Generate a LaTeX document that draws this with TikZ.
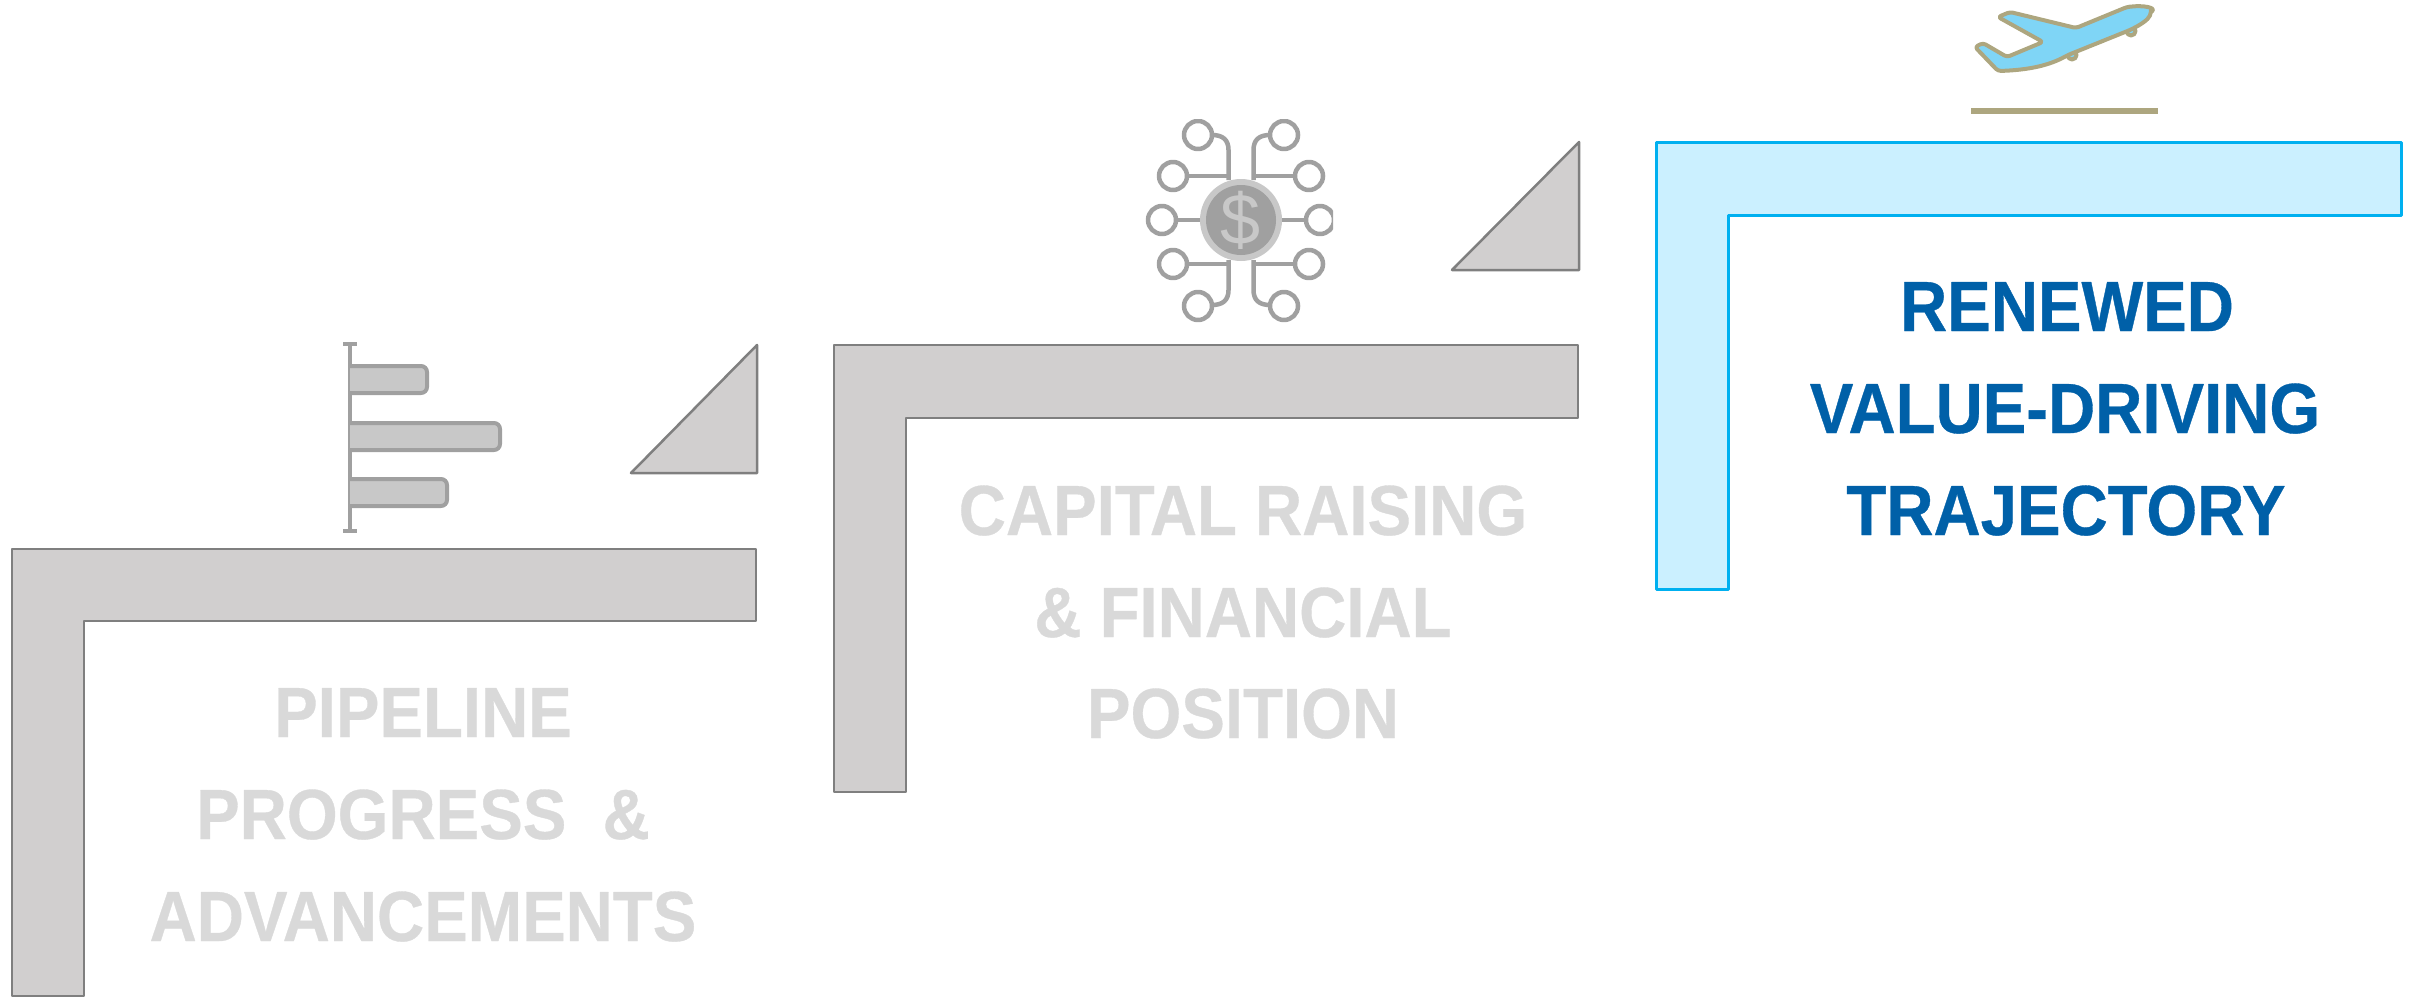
\documentclass[tikz,border=0pt]{standalone}
\usepackage{fontspec}
\setmainfont[FakeStretch=0.92,BoldFeatures={FakeStretch=0.92,FakeBold=0.5}]{Liberation Sans}
\newfontfamily\dollarfont{Liberation Sans}
\definecolor{stepgrey}{HTML}{D1CFCF}
\definecolor{stepline}{HTML}{7F7F7F}
\definecolor{stepblue}{HTML}{CBF0FF}
\definecolor{bluelineb}{HTML}{00B0F0}
\definecolor{textgrey}{HTML}{D9D9D9}
\definecolor{textblue}{HTML}{0060A8}
\definecolor{icondark}{HTML}{A0A0A0}
\definecolor{iconlight}{HTML}{C8C8C8}
\definecolor{planeblue}{HTML}{7FD5F6}
\definecolor{planeline}{HTML}{ADA67F}
\tikzset{
	greystep/.style={draw=stepline,fill=stepgrey,line width=2.5pt},
	bluestep/.style={draw=bluelineb,fill=stepblue,line width=3pt},
	steplabel/.style={anchor=base,inner sep=0pt,font=\fontsize{71}{71}\selectfont\bfseries},
	greylabel/.style={steplabel,text=textgrey},
	bluelabel/.style={steplabel,text=textblue},
	iconline/.style={draw=icondark,line width=4.5pt},
	iconbar/.style={draw=icondark,fill=iconlight,line width=4pt,rounded corners=6pt},
	planepart/.style={draw=planeline,fill=planeblue,line width=4pt,line join=round}
}
\begin{document}
\begin{tikzpicture}[x=1pt,y=-1pt,line join=round]
	\useasboundingbox (0,0) rectangle (2418,998);
	% steps
	\draw[greystep] (12,549)--(756,549)--(756,621)--(84,621)--(84,996)--(12,996)--cycle;
	\draw[greystep] (834,345)--(1578,345)--(1578,418)--(906,418)--(906,792)--(834,792)--cycle;
	\draw[bluestep] (1656,142)--(2401,142)--(2401,215)--(1728,215)--(1728,589)--(1656,589)--cycle;
	\draw[greystep] (631,473)--(757,345)--(757,473)--cycle;
	\draw[greystep] (1452,270)--(1579,142)--(1579,270)--cycle;
	% labels
	\node[greylabel] (pipeA) at (423,737) {PIPELINE};
	\node[greylabel] (pipeB) at (423,839) {PROGRESS\ \ \&};
	\node[greylabel] (pipeC) at (423,941) {ADVANCEMENTS};
	\node[greylabel] (capA) at (1243,535) {CAPITAL RAISING};
	\node[greylabel] (capB) at (1243,637) {\& FINANCIAL};
	\node[greylabel] (capC) at (1243,738) {POSITION};
	\node[bluelabel] (renA) at (2067,331) {RENEWED};
	\node[bluelabel] (renB) at (2065,433) {VALUE-DRIVING};
	\node[bluelabel] (renC) at (2066,535) {TRAJECTORY};
	% bar chart
	\draw[iconline] (350,344)--(350,531) (343,344)--(357,344) (343,531)--(357,531);
	\draw[iconbar] (350,366)--(427,366)--(427,393)--(350,393);
	\draw[iconbar] (350,423)--(500,423)--(500,450)--(350,450);
	\draw[iconbar] (350,479)--(447,479)--(447,506)--(350,506);
	% network
	\begin{scope}
		\clip (1140,119) rectangle (1333,322);
		\begin{scope}[shift={(1241,220)}]
			\foreach \sx in {-1,1} {
				\draw[iconline] (\sx*12.5,-40)--(\sx*12.5,-70) .. controls (\sx*12.5,-80) and (\sx*18,-85) .. (\sx*29,-85);
				\draw[iconline] (\sx*12.5,40)--(\sx*12.5,70) .. controls (\sx*12.5,80) and (\sx*18,85) .. (\sx*29,85);
				\draw[iconline] (\sx*12.5,-44)--(\sx*54,-44) (\sx*12.5,44)--(\sx*54,44) (\sx*38,0)--(\sx*65,0);
				\draw[iconline,fill=white] (\sx*43,-85) circle (14pt);
				\draw[iconline,fill=white] (\sx*68,-44) circle (14pt);
				\draw[iconline,fill=white] (\sx*79,0) circle (14pt);
				\draw[iconline,fill=white] (\sx*68,44) circle (14pt);
				\draw[iconline,fill=white] (\sx*43,86) circle (14pt);
			}
			\fill[iconlight] (0,0) circle (41pt);
			\fill[icondark] (0,0) circle (35pt);
			\node[inner sep=0pt,text=iconlight,font=\fontsize{72}{72}\selectfont\dollarfont] (dollar) at (0,0) {\$};
		\end{scope}
	\end{scope}
	% plane
	\draw[planepart] (2072,55) circle (4.5pt);
	\draw[planepart] (2131,31) circle (4.5pt);
	\draw[planepart,rounded corners=3pt] (2151,13) .. controls (2155,8) and (2145,5) .. (2127,7)--(2076,28)--(2010,12)--(1998,17)--(2043,42)--(2007,57)--(1983,43)--(1975,47)--(1998,71) .. controls (2030,70) and (2050,65) .. (2068,55)--(2130,30) .. controls (2140,25) and (2148,20) .. (2151,13)--cycle;
	\fill[planeline] (1971,108) rectangle (2158,114);
\end{tikzpicture}
\end{document}
